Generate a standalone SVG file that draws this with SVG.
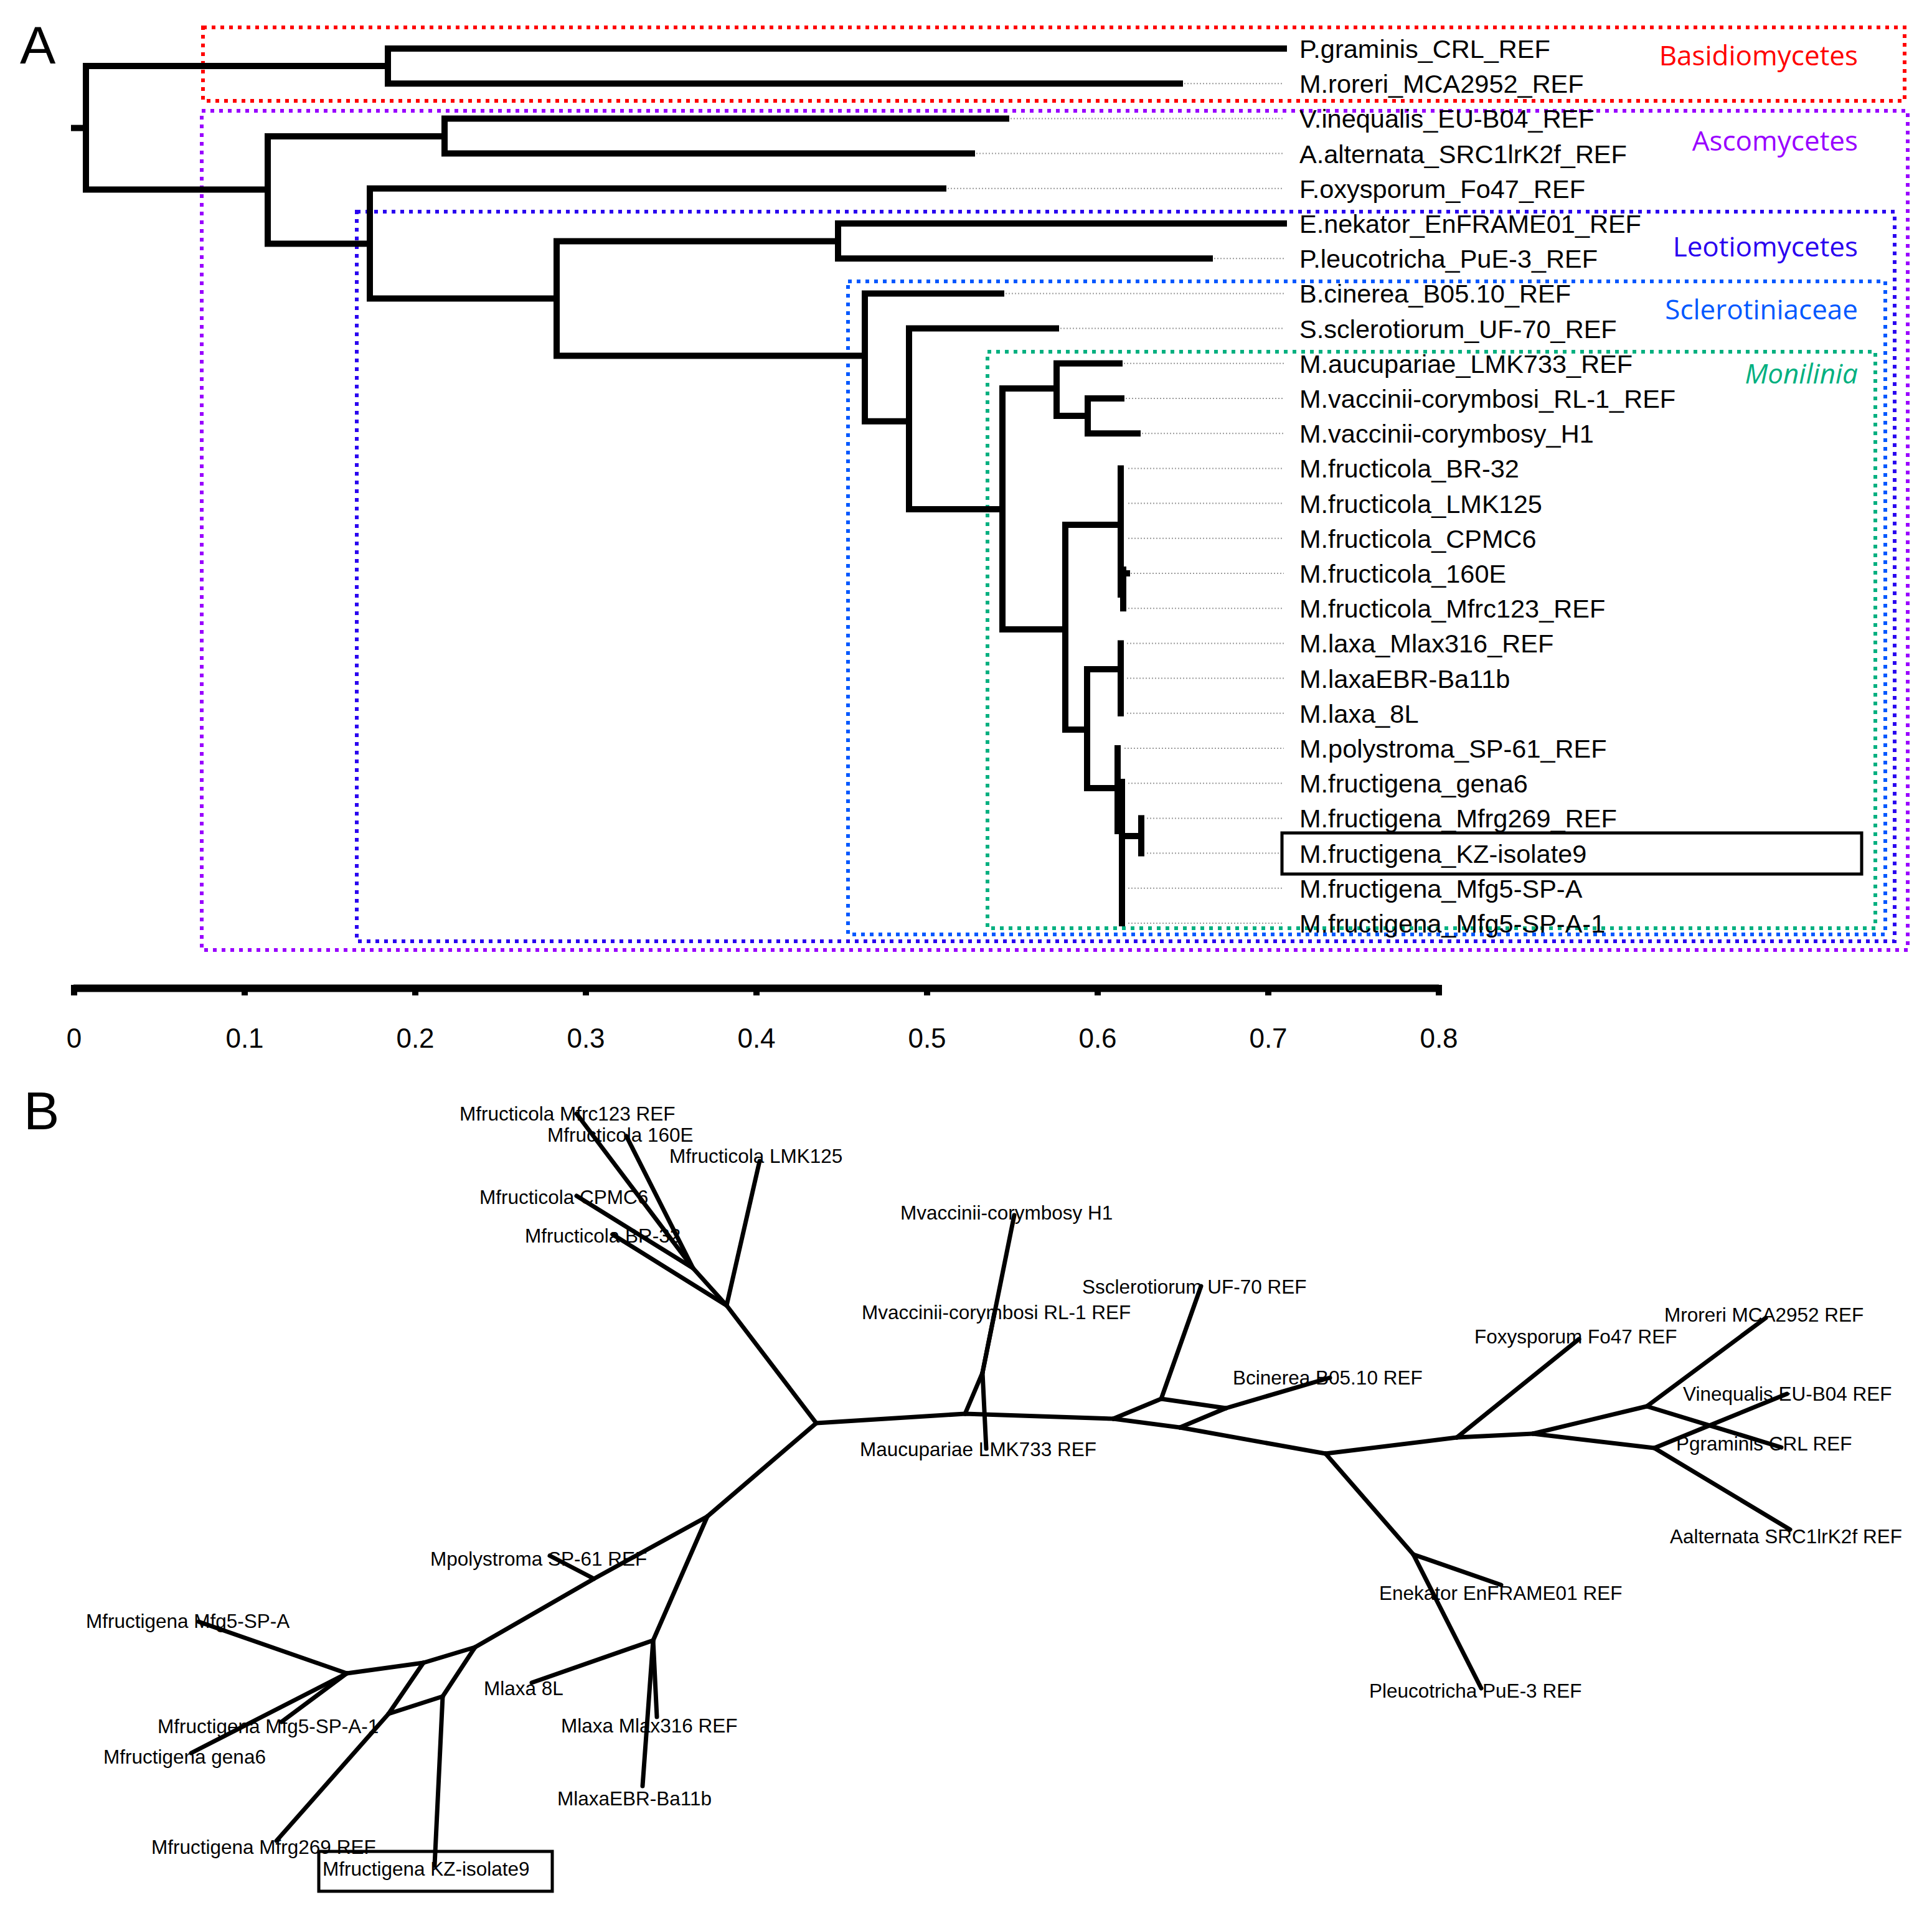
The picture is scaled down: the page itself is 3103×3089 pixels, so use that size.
<svg xmlns="http://www.w3.org/2000/svg" width="3103" height="3089" viewBox="0 0 3103 3089">
<style>
.br{fill:none;stroke:#000;stroke-width:10;stroke-linejoin:miter;stroke-linecap:square}
.lead{fill:none;stroke:#9a9a9a;stroke-width:2;stroke-dasharray:2 3}
.tl{font-family:"Liberation Sans",Arial,sans-serif;font-size:41.5px;fill:#000}
.grp{font-family:"Open Sans","Noto Sans",sans-serif;font-size:44px;text-anchor:end}
.box{fill:none;stroke-width:6;stroke-dasharray:6 8}
.ax{font-family:"Liberation Sans",Arial,sans-serif;font-size:44px;text-anchor:middle}
.pl{font-family:"Liberation Sans",Arial,sans-serif;font-size:44px}
.ub{fill:none;stroke:#000;stroke-width:7;stroke-linecap:round;stroke-linejoin:round}
.bl{font-family:"Liberation Sans",Arial,sans-serif;font-size:31.5px;fill:#000}
.hl{fill:none;stroke:#000;stroke-width:5}
</style>
<rect x="0" y="0" width="3103" height="3089" fill="#fff"/>

<!-- Panel labels -->
<text class="pl" x="32" y="102" font-size="86" style="font-size:86px">A</text>
<text class="pl" x="38" y="1814" style="font-size:86px">B</text>

<!-- Group boxes (panel A) -->
<g id="box-basidiomycetes">
<rect class="box" x="326" y="44" width="2733" height="118" stroke="#ff0000"/>
<text class="grp" x="2984" y="105" fill="#ff0000">Basidiomycetes</text>
</g>
<g id="box-ascomycetes">
<rect class="box" x="324" y="178" width="2740" height="1348" stroke="#9900ff"/>
<text class="grp" x="2984" y="242" fill="#9900ff">Ascomycetes</text>
</g>
<g id="box-leotiomycetes">
<rect class="box" x="573" y="340" width="2470" height="1172" stroke="#2a00f0"/>
<text class="grp" x="2984" y="412" fill="#2a00f0">Leotiomycetes</text>
</g>
<g id="box-sclerotiniaceae">
<rect class="box" x="1362" y="452" width="1666" height="1049" stroke="#0058ff"/>
<text class="grp" x="2984" y="513" fill="#0058ff">Sclerotiniaceae</text>
</g>
<g id="box-monilinia">
<rect class="box" x="1586" y="565" width="1426" height="926" stroke="#00b080"/>
<text class="grp" x="2984" y="616" fill="#00b080" font-style="italic">Monilinia</text>
</g>

<!-- Panel A connectors -->
<g id="connectors-A">
<path class="br" d="M119 205.6 H138"/>
<path class="br" d="M623 106 H138 V304.5 H430"/>
<path class="br" d="M2062 78 H623 V134.2 H1895"/>
<path class="br" d="M714 219 H430 V391.5 H594"/>
<path class="br" d="M1616 190.4 H714 V246.6 H1561"/>
<path class="br" d="M1515 302.8 H594 V479.6 H894"/>
<path class="br" d="M1346 387.5 H894 V571.4 H1389"/>
<path class="br" d="M2062 359 H1346 V415.2 H1943"/>
<path class="br" d="M1608 471.4 H1389 V676.7 H1460"/>
<path class="br" d="M1696 527.6 H1460 V818 H1610"/>
<path class="br" d="M1697 624 H1610 V1011 H1711"/>
<path class="br" d="M1798 583.8 H1697 V668 H1747"/>
<path class="br" d="M1801 640 H1747 V696.2 H1827"/>
<path class="br" d="M1800 843 H1711 V1172 H1746"/>
<path class="br" d="M1800 752.4 V955"/>
<path class="br" d="M1804 915 V977.2"/>
<path class="br" d="M1804 921 H1810"/>
<path class="br" d="M1800 1075 H1746 V1266 H1795"/>
<path class="br" d="M1800 1033.4 V1145.8"/>
<path class="br" d="M1795 1202 V1335"/>
<path class="br" d="M1802 1256 V1483"/>
<path class="br" d="M1802 1343 H1833"/>
<path class="br" d="M1833 1314.4 V1370.6"/>
</g>

<!-- Panel A tips -->
<g id="tip-A00"><text class="tl" x="2087" y="93">P.graminis_CRL_REF</text></g>
<g id="tip-A01"><path class="lead" d="M1902 134.2 H2062"/><text class="tl" x="2087" y="149.2">M.roreri_MCA2952_REF</text></g>
<g id="tip-A02"><path class="lead" d="M1623 190.4 H2062"/><text class="tl" x="2087" y="205.4">V.inequalis_EU-B04_REF</text></g>
<g id="tip-A03"><path class="lead" d="M1568 246.6 H2062"/><text class="tl" x="2087" y="261.6">A.alternata_SRC1lrK2f_REF</text></g>
<g id="tip-A04"><path class="lead" d="M1522 302.8 H2062"/><text class="tl" x="2087" y="317.8">F.oxysporum_Fo47_REF</text></g>
<g id="tip-A05"><text class="tl" x="2087" y="374">E.nekator_EnFRAME01_REF</text></g>
<g id="tip-A06"><path class="lead" d="M1950 415.2 H2062"/><text class="tl" x="2087" y="430.2">P.leucotricha_PuE-3_REF</text></g>
<g id="tip-A07"><path class="lead" d="M1615 471.4 H2062"/><text class="tl" x="2087" y="486.4">B.cinerea_B05.10_REF</text></g>
<g id="tip-A08"><path class="lead" d="M1703 527.6 H2062"/><text class="tl" x="2087" y="542.6">S.sclerotiorum_UF-70_REF</text></g>
<g id="tip-A09"><path class="lead" d="M1805 583.8 H2062"/><text class="tl" x="2087" y="598.8">M.aucupariae_LMK733_REF</text></g>
<g id="tip-A10"><path class="lead" d="M1808 640 H2062"/><text class="tl" x="2087" y="655">M.vaccinii-corymbosi_RL-1_REF</text></g>
<g id="tip-A11"><path class="lead" d="M1834 696.2 H2062"/><text class="tl" x="2087" y="711.2">M.vaccinii-corymbosy_H1</text></g>
<g id="tip-A12"><path class="lead" d="M1812 752.4 H2062"/><text class="tl" x="2087" y="767.4">M.fructicola_BR-32</text></g>
<g id="tip-A13"><path class="lead" d="M1812 808.6 H2062"/><text class="tl" x="2087" y="823.6">M.fructicola_LMK125</text></g>
<g id="tip-A14"><path class="lead" d="M1812 864.8 H2062"/><text class="tl" x="2087" y="879.8">M.fructicola_CPMC6</text></g>
<g id="tip-A15"><path class="lead" d="M1816 921 H2062"/><text class="tl" x="2087" y="936">M.fructicola_160E</text></g>
<g id="tip-A16"><path class="lead" d="M1812 977.2 H2062"/><text class="tl" x="2087" y="992.2">M.fructicola_Mfrc123_REF</text></g>
<g id="tip-A17"><path class="lead" d="M1810 1033.4 H2062"/><text class="tl" x="2087" y="1048.4">M.laxa_Mlax316_REF</text></g>
<g id="tip-A18"><path class="lead" d="M1810 1089.6 H2062"/><text class="tl" x="2087" y="1104.6">M.laxaEBR-Ba11b</text></g>
<g id="tip-A19"><path class="lead" d="M1810 1145.8 H2062"/><text class="tl" x="2087" y="1160.8">M.laxa_8L</text></g>
<g id="tip-A20"><path class="lead" d="M1806 1202 H2062"/><text class="tl" x="2087" y="1217">M.polystroma_SP-61_REF</text></g>
<g id="tip-A21"><path class="lead" d="M1812 1258.2 H2062"/><text class="tl" x="2087" y="1273.2">M.fructigena_gena6</text></g>
<g id="tip-A22"><path class="lead" d="M1842 1314.4 H2062"/><text class="tl" x="2087" y="1329.4">M.fructigena_Mfrg269_REF</text></g>
<g id="tip-A23"><path class="lead" d="M1842 1370.6 H2062"/><rect class="hl" x="2059" y="1338" width="931" height="66"/><text class="tl" x="2087" y="1385.6">M.fructigena_KZ-isolate9</text></g>
<g id="tip-A24"><path class="lead" d="M1812 1426.8 H2062"/><text class="tl" x="2087" y="1441.8">M.fructigena_Mfg5-SP-A</text></g>
<g id="tip-A25"><path class="lead" d="M1812 1483 H2062"/><text class="tl" x="2087" y="1498">M.fructigena_Mfg5-SP-A-1</text></g>

<!-- Scale axis -->
<g id="axis">
<path d="M118 1587.5 H2311" stroke="#000" stroke-width="12" fill="none"/>
<path d="M119 1582 V1599 M393 1582 V1599 M667 1582 V1599 M941 1582 V1599 M1215 1582 V1599 M1489 1582 V1599 M1763 1582 V1599 M2037 1582 V1599 M2311 1582 V1599" stroke="#000" stroke-width="10" fill="none"/>
<text class="ax" x="119" y="1683">0</text>
<text class="ax" x="393" y="1683">0.1</text>
<text class="ax" x="667" y="1683">0.2</text>
<text class="ax" x="941" y="1683">0.3</text>
<text class="ax" x="1215" y="1683">0.4</text>
<text class="ax" x="1489" y="1683">0.5</text>
<text class="ax" x="1763" y="1683">0.6</text>
<text class="ax" x="2037" y="1683">0.7</text>
<text class="ax" x="2311" y="1683">0.8</text>
</g>

<!-- Panel B connectors -->
<g id="connectors-B">
<path class="ub" d="M1311 2286 L1167 2097"/>
<path class="ub" d="M1167 2097 L1220 1865"/>
<path class="ub" d="M1167 2097 L984 1983"/>
<path class="ub" d="M1167 2097 L1113 2037"/>
<path class="ub" d="M1113 2037 L926 1789"/>
<path class="ub" d="M1113 2037 L1006 1825"/>
<path class="ub" d="M1113 2037 L926 1921"/>
<path class="ub" d="M1311 2286 L1550 2271 L1788 2279"/>
<path class="ub" d="M1550 2271 L1578 2205"/>
<path class="ub" d="M1578 2205 L1629 1952"/>
<path class="ub" d="M1578 2205 L1597 2110"/>
<path class="ub" d="M1578 2205 L1584 2327"/>
<path class="ub" d="M1788 2279 L1865 2247"/>
<path class="ub" d="M1865 2247 L1929 2066"/>
<path class="ub" d="M1865 2247 L1969 2262"/>
<path class="ub" d="M1788 2279 L1895 2293"/>
<path class="ub" d="M1895 2293 L1969 2262"/>
<path class="ub" d="M1969 2262 L2136 2213"/>
<path class="ub" d="M1895 2293 L2129 2335"/>
<path class="ub" d="M2129 2335 L2340 2309"/>
<path class="ub" d="M2129 2335 L2270 2497"/>
<path class="ub" d="M2270 2497 L2411 2546"/>
<path class="ub" d="M2270 2497 L2379 2712"/>
<path class="ub" d="M2340 2309 L2536 2151"/>
<path class="ub" d="M2340 2309 L2462 2303"/>
<path class="ub" d="M2462 2303 L2645 2259"/>
<path class="ub" d="M2462 2303 L2657 2326"/>
<path class="ub" d="M2645 2259 L2836 2117"/>
<path class="ub" d="M2645 2259 L2861 2325"/>
<path class="ub" d="M2657 2326 L2870 2239"/>
<path class="ub" d="M2657 2326 L2875 2457"/>
<path class="ub" d="M1311 2286 L1136 2436"/>
<path class="ub" d="M1136 2436 L1049 2635"/>
<path class="ub" d="M1049 2635 L854 2703"/>
<path class="ub" d="M1049 2635 L1032 2869"/>
<path class="ub" d="M1049 2635 L1055 2758"/>
<path class="ub" d="M1136 2436 L954 2536 L763 2646"/>
<path class="ub" d="M954 2536 L883 2499"/>
<path class="ub" d="M763 2646 L680 2671"/>
<path class="ub" d="M763 2646 L711 2725"/>
<path class="ub" d="M711 2725 L698 2997"/>
<path class="ub" d="M711 2725 L624 2753"/>
<path class="ub" d="M624 2753 L680 2671"/>
<path class="ub" d="M624 2753 L444 2957"/>
<path class="ub" d="M680 2671 L557 2688"/>
<path class="ub" d="M557 2688 L319 2605"/>
<path class="ub" d="M557 2688 L307 2816"/>
<path class="ub" d="M557 2688 L452 2766"/>
</g>

<!-- Panel B tips -->
<g id="tip-B01"><text class="bl" x="738" y="1800">Mfructicola Mfrc123 REF</text></g>
<g id="tip-B02"><text class="bl" x="879" y="1834">Mfructicola 160E</text></g>
<g id="tip-B03"><text class="bl" x="1075" y="1868">Mfructicola LMK125</text></g>
<g id="tip-B04"><text class="bl" x="770" y="1934">Mfructicola CPMC6</text></g>
<g id="tip-B05"><text class="bl" x="843" y="1996">Mfructicola BR-32</text></g>
<g id="tip-B06"><text class="bl" x="1446" y="1959">Mvaccinii-corymbosy H1</text></g>
<g id="tip-B07"><text class="bl" x="1384" y="2119">Mvaccinii-corymbosi RL-1 REF</text></g>
<g id="tip-B08"><text class="bl" x="1381" y="2339">Maucupariae LMK733 REF</text></g>
<g id="tip-B09"><text class="bl" x="1738" y="2078">Ssclerotiorum UF-70 REF</text></g>
<g id="tip-B10"><text class="bl" x="1980" y="2224">Bcinerea B05.10 REF</text></g>
<g id="tip-B11"><text class="bl" x="2368" y="2158">Foxysporum Fo47 REF</text></g>
<g id="tip-B12"><text class="bl" x="2673" y="2123">Mroreri MCA2952 REF</text></g>
<g id="tip-B13"><text class="bl" x="2703" y="2250">Vinequalis EU-B04 REF</text></g>
<g id="tip-B14"><text class="bl" x="2692" y="2330">Pgraminis CRL REF</text></g>
<g id="tip-B15"><text class="bl" x="2682" y="2479">Aalternata SRC1lrK2f REF</text></g>
<g id="tip-B16"><text class="bl" x="2215" y="2570">Enekator EnFRAME01 REF</text></g>
<g id="tip-B17"><text class="bl" x="2199" y="2727">Pleucotricha PuE-3 REF</text></g>
<g id="tip-B18"><text class="bl" x="691" y="2515">Mpolystroma SP-61 REF</text></g>
<g id="tip-B19"><text class="bl" x="138" y="2615">Mfructigena Mfg5-SP-A</text></g>
<g id="tip-B20"><text class="bl" x="253" y="2784">Mfructigena Mfg5-SP-A-1</text></g>
<g id="tip-B21"><text class="bl" x="166" y="2833">Mfructigena gena6</text></g>
<g id="tip-B22"><text class="bl" x="777" y="2723">Mlaxa 8L</text></g>
<g id="tip-B23"><text class="bl" x="901" y="2783">Mlaxa Mlax316 REF</text></g>
<g id="tip-B24"><text class="bl" x="895" y="2900">MlaxaEBR-Ba11b</text></g>
<g id="tip-B25"><text class="bl" x="243" y="2978">Mfructigena Mfrg269 REF</text></g>
<g id="tip-B26"><rect class="hl" x="512" y="2974" width="375" height="64" stroke-width="4"/><text class="bl" x="518" y="3013">Mfructigena KZ-isolate9</text></g>
</svg>
